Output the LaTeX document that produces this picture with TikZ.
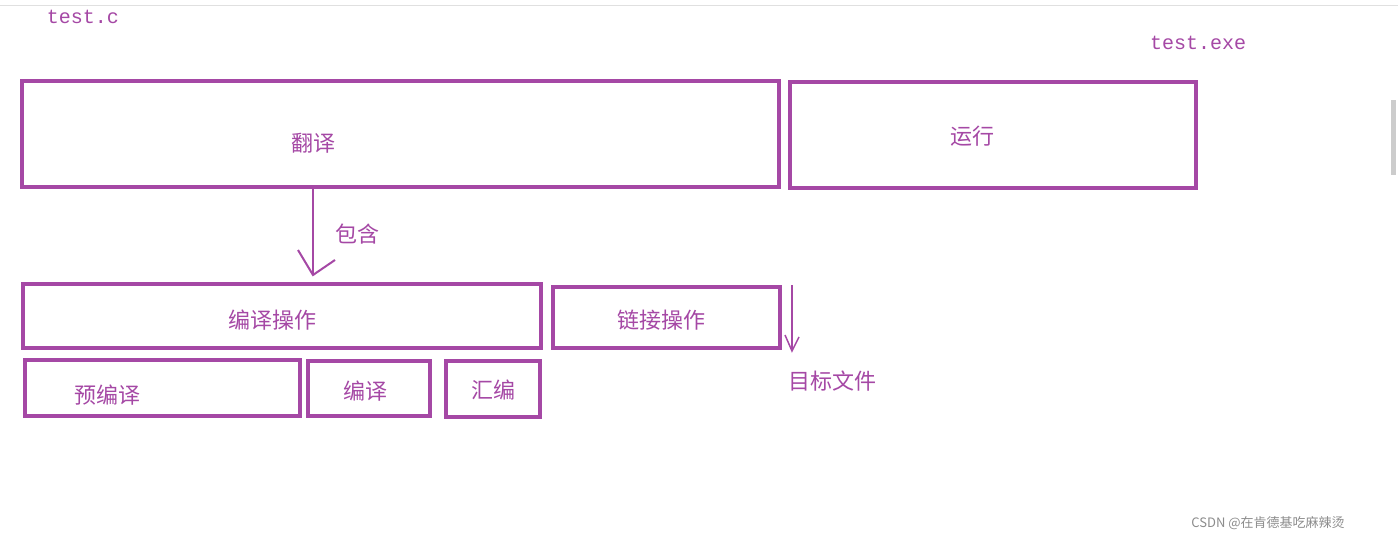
\documentclass[tikz,border=0pt]{standalone}
\usepackage{fontspec}
\newfontfamily\cjk{Noto Sans CJK SC}
\newfontfamily\mono{Liberation Mono}
\definecolor{pp}{RGB}{165,72,165}
\begin{document}
\begin{tikzpicture}[x=1pt,y=-1pt,
  bx/.style={draw=pp,line width=3.5pt},
  lab/.style={text=pp,font=\cjk\fontsize{22}{24}\selectfont,inner sep=0pt},
  mon/.style={text=pp,font=\mono\fontsize{20}{22}\selectfont,inner sep=0pt}]
\useasboundingbox[fill=white] (0,0) rectangle (1398,543);
\draw[black!12] (0,5) -- (1398,5);
\fill[black!20] (1391,100) rectangle (1396,175);
\node[mon] (tc) at (83,17) {test.c};
\node[mon] (te) at (1198,43) {test.exe};
\draw[bx] (22,81) rectangle (779,187);
\node[lab] (fy) at (313,143) {翻译};
\draw[bx] (790,82) rectangle (1196,188);
\node[lab] (yx) at (972,136) {运行};
\coordinate (a1) at (313,188);
\coordinate (a2) at (313,275);
\draw[pp,line width=2.5pt] (a1) -- (a2);
\draw[pp,line width=2pt] (298,250) -- (a2) -- (335,260);
\node[lab] (bh) at (357,234) {包含};
\draw[bx] (23,284) rectangle (541,348);
\node[lab] (by) at (272,320) {编译操作};
\draw[bx] (553,287) rectangle (780,348);
\node[lab] (lj) at (661,320) {链接操作};
\coordinate (b1) at (792,285);
\coordinate (b2) at (792,351);
\draw[pp,line width=2pt] (b1) -- (b2);
\draw[pp,line width=1.5pt] (785,335) -- (b2) -- (799,337);
\node[lab] (mb) at (832,381) {目标文件};
\draw[bx] (25,360) rectangle (300,416);
\node[lab] (yb) at (107,395) {预编译};
\draw[bx] (308,361) rectangle (430,416);
\node[lab] (bb) at (365,391) {编译};
\draw[bx] (446,361) rectangle (540,417);
\node[lab] (hb) at (493,390) {汇编};
\node[text=black!45,font=\cjk\fontsize{13}{15}\selectfont,inner sep=0pt] (wm) at (1268,523) {CSDN @在肯德基吃麻辣烫};
\end{tikzpicture}
\end{document}
